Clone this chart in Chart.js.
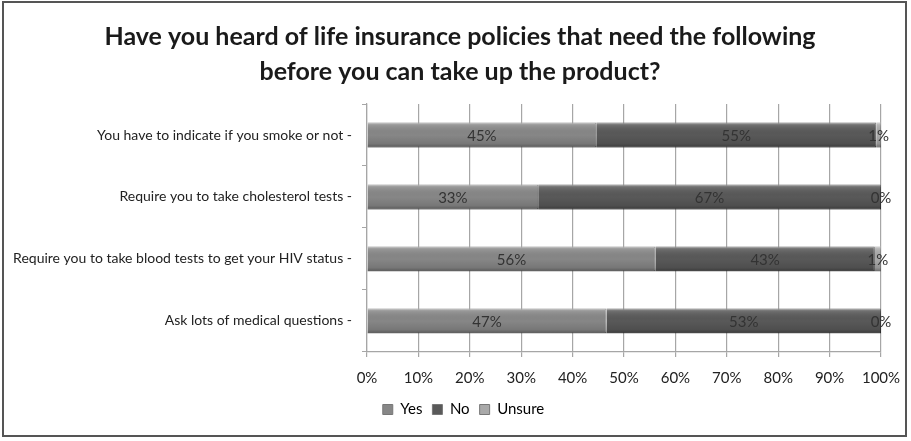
<!DOCTYPE html>
<html>
<head>
<meta charset="utf-8">
<script src="https://cdn.jsdelivr.net/npm/chart.js"></script>
<style>
  html, body { margin: 0; padding: 0; background: #fff; }
  #frame {
    position: absolute; left: 2px; top: 1px;
    width: 905px; height: 436px;
    border: 2px solid #555; box-sizing: border-box;
  }
  #chart { position: absolute; left: 0; top: 0; }
</style>
</head>
<body>
<div id="frame"><canvas id="chart" width="901" height="432"></canvas></div>
<script>
// 설문 항목과 응답 비율(%)
const questions = [
    'You have to indicate if you smoke or not -',
    'Require you to take cholesterol tests -',
    'Require you to take blood tests to get your HIV status -',
    'Ask lots of medical questions -'
];
const yesValues = [44.6, 33.3, 56.1, 46.6];
const noValues = [54.5, 66.7, 42.7, 53.4];
const unsureValues = [0.9, 0.0, 1.2, 0.0];
const xTicks = [0, 10, 20, 30, 40, 50, 60, 70, 80, 90, 100];

const FONT = 'Lato, "Open Sans", sans-serif';

// 제목/범례를 긴 y축 라벨과 무관하게 페이지 가운데 쪽으로 이동
const shiftBlocks = {
    id: 'shiftBlocks',
    afterLayout(chart) {
        if (chart.titleBlock) chart.titleBlock.left += 31;
        if (chart.legend) {
            chart.legend.left += 38;
            chart.legend.top -= 8;
        }
    }
};

// 막대에 입체감(위쪽 밝게, 아래쪽 어둡게) + 값 라벨
const bevelLabels = {
    id: 'bevelLabels',
    afterDatasetsDraw(chart) {
        const ctx = chart.ctx;
        chart.data.datasets.forEach((ds, di) => {
            const meta = chart.getDatasetMeta(di);
            meta.data.forEach((bar) => {
                const left = Math.min(bar.x, bar.base);
                const w = Math.abs(bar.x - bar.base);
                const top = bar.y - bar.height / 2;
                if (w < 0.5) return;
                const g = ctx.createLinearGradient(0, top, 0, top + bar.height);
                g.addColorStop(0, 'rgba(255,255,255,0.35)');
                g.addColorStop(0.12, 'rgba(255,255,255,0.12)');
                g.addColorStop(0.5, 'rgba(0,0,0,0)');
                g.addColorStop(0.85, 'rgba(0,0,0,0.12)');
                g.addColorStop(1, 'rgba(0,0,0,0.35)');
                ctx.save();
                ctx.fillStyle = g;
                ctx.fillRect(left, top, w, bar.height);
                ctx.restore();
            });
        });
        ctx.save();
        ctx.font = '15px ' + FONT;
        ctx.fillStyle = '#333';
        ctx.textAlign = 'center';
        ctx.textBaseline = 'middle';
        chart.data.datasets.forEach((ds, di) => {
            const meta = chart.getDatasetMeta(di);
            meta.data.forEach((bar, i) => {
                const cx = (bar.x + bar.base) / 2;
                ctx.fillText(Math.round(ds.data[i]) + '%', cx, bar.y + 1);
            });
        });
        ctx.restore();
    }
};

new Chart(document.getElementById('chart'), {
    type: 'bar',
    data: {
        labels: questions,
        datasets: [
            { label: 'Yes', data: yesValues, backgroundColor: '#878787', borderColor: '#6a6a6a', borderWidth: 1 },
            { label: 'No', data: noValues, backgroundColor: '#595959', borderColor: '#3a3a3a', borderWidth: 1 },
            { label: 'Unsure', data: unsureValues, backgroundColor: '#a9a9a9', borderColor: '#888', borderWidth: 1 }
        ]
    },
    options: {
        indexAxis: 'y',
        responsive: false,
        animation: false,
        datasets: { bar: { barPercentage: 0.4, categoryPercentage: 1 } },
        layout: { padding: { left: 4, right: 24, top: 0, bottom: 0 } },
        plugins: {
            title: {
                display: true,
                text: ['Have you heard of life insurance policies that need the following',
                       'before you can take up the product?'],
                color: '#1a1a1a',
                font: { family: FONT, size: 25, weight: 'bold', lineHeight: 1.4 },
                padding: { top: 16, bottom: 15 }
            },
            legend: {
                position: 'bottom',
                labels: {
                    color: '#333',
                    font: { family: FONT, size: 15 },
                    boxWidth: 10, boxHeight: 10, padding: 10,
                    generateLabels(chart) {
                        return chart.data.datasets.map((ds, i) => ({
                            text: ds.label,
                            fillStyle: ds.backgroundColor,
                            strokeStyle: '#777',
                            lineWidth: 1,
                            datasetIndex: i
                        }));
                    }
                }
            },
            tooltip: { enabled: false }
        },
        scales: {
            x: {
                stacked: true,
                min: 0, max: 100,
                afterBuildTicks(scale) {
                    scale.ticks = xTicks.map(v => ({ value: v }));
                },
                ticks: {
                    color: '#222',
                    font: { family: FONT, size: 15, lineHeight: 2.47 },
                    padding: 3,
                    callback: v => v + '%'
                },
                grid: { color: '#a6a6a6', lineWidth: 1.2, tickLength: 5 },
                border: { color: '#a6a6a6', width: 1.2 }
            },
            y: {
                stacked: true,
                ticks: {
                    color: '#222',
                    font: { family: FONT, size: 14 },
                    padding: 10
                },
                grid: { display: true, drawOnChartArea: false, offset: true, color: '#a6a6a6', tickLength: 5 },
                border: { color: '#a6a6a6', width: 1.2 },
                afterFit(scale) { scale.width = 359; }
            }
        }
    },
    plugins: [shiftBlocks, bevelLabels]
});
</script>
</body>
</html>
